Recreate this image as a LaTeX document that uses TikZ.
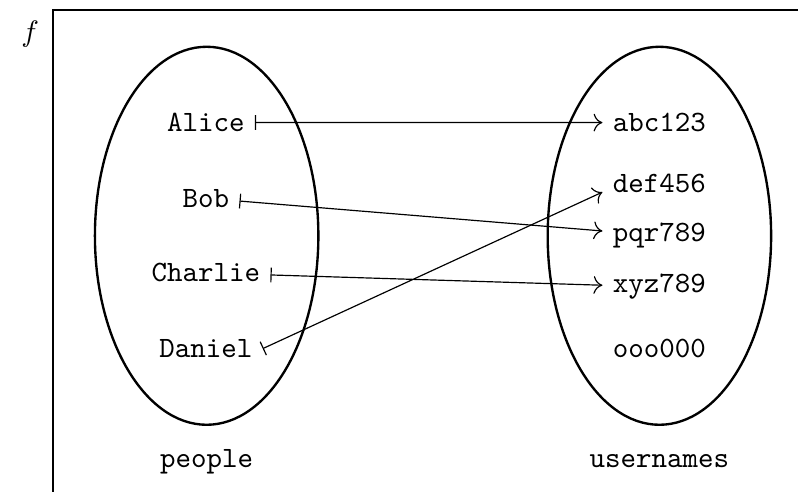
\documentclass[tikz,border=0pt]{standalone}
\usepackage{tikz}
\usetikzlibrary{shapes.geometric, arrows.meta, positioning}

\begin{document}
\begin{tikzpicture}[
    setbox/.style={ellipse, draw, thick, minimum width=2.66cm, minimum height=4.5cm},
    elem/.style={font=\ttfamily, anchor=base},
    mapsto/.style={{Bar[width=5pt]}-{To[length=3pt,width=6pt]}}
]

\clip (0,0) rectangle (9.5,5.857);

\node (fname) at (0.36,5.45) {$f$};
\draw[thick] (0.63,5.74) rectangle (11,-1);

% domain and codomain
\node[setbox] (people) at (2.46,3.05) {};
\node[setbox] (names) at (7.85,3.05) {};
\node[elem] (plabel) at (2.46,0.29) {people};
\node[elem] (nlabel) at (7.85,0.29) {usernames};

\node[elem] (alice) at (2.45,4.29) {Alice};
\node[elem] (bob) at (2.45,3.39) {Bob};
\node[elem] (charlie) at (2.45,2.50) {Charlie};
\node[elem] (daniel) at (2.45,1.60) {Daniel};

\node[elem] (abc) at (7.85,4.29) {abc123};
\node[elem] (def) at (7.85,3.57) {def456};
\node[elem] (pqr) at (7.85,2.98) {pqr789};
\node[elem] (xyz) at (7.85,2.37) {xyz789};
\node[elem] (ooo) at (7.85,1.60) {ooo000};

\draw[mapsto] (alice) -- (abc);
\draw[mapsto] (bob) -- (pqr);
\draw[mapsto] (charlie) -- (xyz);
\draw[mapsto] (daniel.east) -- (def.base west);

\end{tikzpicture}
\end{document}
